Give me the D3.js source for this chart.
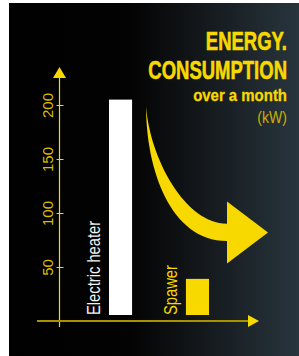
<!DOCTYPE html>
<html>
<head>
<meta charset="utf-8">
<script src="https://cdn.jsdelivr.net/npm/d3@7"></script>
<style>
  html, body { margin: 0; padding: 0; background: #fff; }
  svg { display: block; }
  text { font-family: "Liberation Sans", Arial, sans-serif; }
</style>
</head>
<body>
<div id="chart"></div>
<script>
// chart data
const categories = ['Electric heater', 'Spawer'];
const values = [205, 39];
const tickValues = [50, 100, 150, 200];
const titleLines = ['ENERGY.', 'CONSUMPTION'];
const subtitle = 'over a month';
const unit = '(kW)';

const width = 299, height = 356;
const yellow = '#f7d900';

const svg = d3.select('#chart').append('svg')
  .attr('width', width)
  .attr('height', height);

// background panel with gradient
const defs = svg.append('defs');
const grad = defs.append('linearGradient')
  .attr('id', 'bg')
  .attr('x1', '0%').attr('x2', '100%');
grad.append('stop').attr('offset', '0%').attr('stop-color', '#000');
grad.append('stop').attr('offset', '42%').attr('stop-color', '#040303');
grad.append('stop').attr('offset', '100%').attr('stop-color', '#28353d');

svg.append('rect')
  .attr('x', 9).attr('y', 3)
  .attr('width', width - 9).attr('height', height - 3)
  .attr('fill', 'url(#bg)');

// scales
const y = d3.scaleLinear().domain([0, 200]).range([321, 105]);
const x = d3.scaleBand().domain(categories).range([109, 209])
  .paddingInner(0.7).paddingOuter(0);
const axisX = 59.5;
const barGap = 6;

// y axis
const yAxis = svg.append('g')
  .attr('transform', `translate(${axisX},0)`)
  .call(d3.axisLeft(y).tickValues(tickValues).tickSize(0));
yAxis.select('.domain').remove();
yAxis.selectAll('.tick line')
  .attr('x1', -3).attr('x2', 4)
  .attr('stroke', yellow).attr('stroke-width', 1);
yAxis.selectAll('.tick text')
  .attr('x', null).attr('dy', null)
  .attr('transform', 'translate(-7,0) rotate(-90)')
  .attr('text-anchor', 'middle')
  .attr('fill', '#d9bf00')
  .style('font-size', '15px')
  .style('font-family', '"Liberation Sans", Arial, sans-serif');

svg.append('line')
  .attr('x1', axisX).attr('x2', axisX)
  .attr('y1', y(0) + 6).attr('y2', y(200) - 27)
  .attr('stroke', yellow).attr('stroke-width', 1.2);
svg.append('path')
  .attr('d', `M${axisX - 6.5},${y(200) - 27} L${axisX + 6.5},${y(200) - 27} L${axisX},${y(200) - 38} Z`)
  .attr('fill', yellow);

// x axis
svg.append('line')
  .attr('x1', 37).attr('x2', 249)
  .attr('y1', y(0)).attr('y2', y(0))
  .attr('stroke', '#a89200').attr('stroke-width', 2);
svg.append('path')
  .attr('d', `M248,${y(0) - 6} L259,${y(0)} L248,${y(0) + 6} Z`)
  .attr('fill', yellow);

// bars
const barColors = ['#ffffff', yellow];
svg.selectAll('rect.bar')
  .data(categories)
  .join('rect')
  .attr('class', 'bar')
  .attr('x', d => x(d))
  .attr('width', x.bandwidth())
  .attr('y', (d, i) => y(values[i]))
  .attr('height', (d, i) => y(0) - barGap - y(values[i]))
  .attr('fill', (d, i) => barColors[i]);

// bar labels (rotated, condensed)
const labelColors = ['#f2f2f2', yellow];
svg.selectAll('text.cat')
  .data(categories)
  .join('text')
  .attr('class', 'cat')
  .attr('transform', (d, i) => `translate(${x(d) - (i === 0 ? 9.5 : 8.5)},${y(0) - barGap}) rotate(-90) scale(0.82,1)`)
  .attr('fill', (d, i) => labelColors[i])
  .style('font-size', '18px')
  .text(d => d);

// curved arrow from the big bar to the small one
const sx = x(categories[0]) + x.bandwidth() + 14;
const sy = y(values[0]) + 7;
const ex = x(categories[1]) + x.bandwidth() + 18;
const eTop = y(90), eBot = y(74);
const arrow = d3.path();
arrow.moveTo(sx, sy);
arrow.bezierCurveTo(sx, sy + 62, sx + 24, eBot, ex, eBot);
arrow.lineTo(ex, eTop);
arrow.bezierCurveTo(sx + 39, eTop, sx + 4, sy + 52, sx, sy);
arrow.closePath();
svg.append('path').attr('d', arrow.toString()).attr('fill', yellow);

const headMid = (eTop + eBot) / 2;
svg.append('path')
  .attr('d', `M${ex},${headMid - 31} L${ex + 41},${headMid} L${ex},${headMid + 31} Z`)
  .attr('fill', yellow);

// title block
const tx = 287;
const title = svg.append('g');
title.selectAll('text.t')
  .data(titleLines)
  .join('text')
  .attr('class', 't')
  .attr('transform', (d, i) => `translate(${tx},${50 + i * 29}) scale(0.74,1)`)
  .attr('text-anchor', 'end')
  .attr('fill', yellow)
  .attr('stroke', yellow)
  .attr('stroke-width', 0.6)
  .style('font-size', '25px')
  .style('font-weight', 'bold')
  .text(d => d);

title.append('text')
  .attr('transform', `translate(${tx},101) scale(0.88,1)`)
  .attr('text-anchor', 'end')
  .attr('fill', yellow)
  .attr('stroke', yellow)
  .attr('stroke-width', 0.3)
  .style('font-size', '17px')
  .style('font-weight', 'bold')
  .text(subtitle);

title.append('text')
  .attr('transform', `translate(${tx},123) scale(0.88,1)`)
  .attr('text-anchor', 'end')
  .attr('fill', '#c9ae00')
  .style('font-size', '16px')
  .text(unit);
</script>
</body>
</html>
